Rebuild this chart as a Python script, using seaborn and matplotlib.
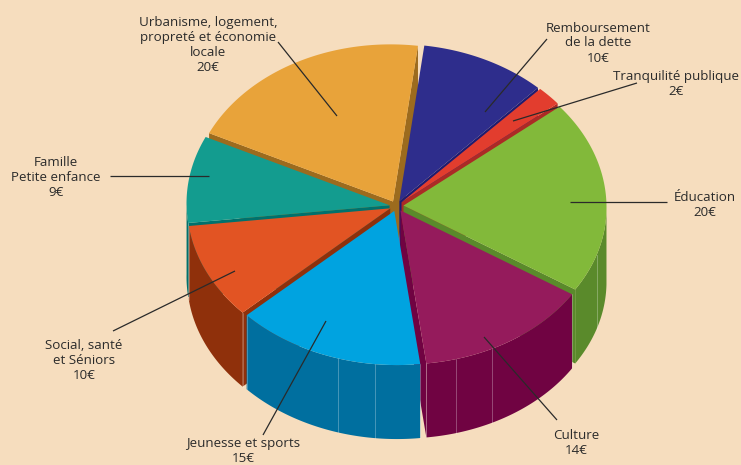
import numpy as np
import matplotlib
matplotlib.use("Agg")
import matplotlib.pyplot as plt
import seaborn as sns

names = ["Urbanisme", "Remboursement", "Tranquilité", "Éducation", "Culture", "Jeunesse", "Social", "Famille"]
values = [20, 10, 2, 20, 14, 15, 10, 9]
top_colors = ["#E8A33A", "#2E2D8C", "#E23D2E", "#82B93A", "#951B5C", "#00A3E0", "#E25423", "#139C8F"]
side_colors = ["#9C6B1E", "#1E1C70", "#AC2A25", "#5A8A2B", "#700342", "#006F9F", "#8F300B", "#00716C"]
draw_order = [0, 1, 2, 7, 3, 6, 4, 5]
labels = ["Urbanisme, logement,\npropreté et économie\nlocale\n20€",
          "Remboursement\nde la dette\n10€",
          "Tranquilité publique\n2€",
          "Éducation\n20€",
          "Culture\n14€",
          "Jeunesse et sports\n15€",
          "Social, santé\net Séniors\n10€",
          "Famille\nPetite enfance\n9€"]
label_xy = [(208, 45), (598, 43), (676, 84), (705, 205), (576, 443), (243, 451), (84, 360), (56, 177)]
leaders = [((278, 42), (337, 116)), ((547, 39), (485, 112)), ((637, 83), (513, 121)),
           ((667, 202), (570, 202)), ((557, 420), (484, 337)), ((263, 435), (326, 321)),
           ((113, 331), (235, 271)), ((110, 176), (209, 176))]
seams = [107, 152, 163, 184.5, 195]

BG = "#F6DDBE"
CX, CY, RX, RY_BACK, RY_FRONT, DEPTH, EXPLODE, START, TILT = 396.5, 206, 203, 157, 154, 74, 7, -66, 0.024

sns.set_theme(style="white")
plt.rcParams["font.family"] = ["Open Sans", "DejaVu Sans"]
fig, ax = plt.subplots(figsize=(7.41, 4.65), dpi=100)
fig.subplots_adjust(0, 0, 1, 1)
fig.patch.set_facecolor(BG)
ax.set_facecolor(BG)
ax.set_xlim(0, 741)
ax.set_ylim(465, 0)
sns.despine(ax=ax, left=True, bottom=True)
ax.set_xticks([])
ax.set_yticks([])

edges = START + np.concatenate([[0], np.cumsum(values)]) / np.sum(values) * 360


def pt(cx, cy, a):
    r = np.radians(a)
    dx = RX * np.sin(r)
    c = np.cos(r)
    dy = -np.where(c > 0, RY_BACK, RY_FRONT) * c
    return cx + dx - TILT * dy, cy + dy + TILT * dx


def radial_wall(tx, ty, a, color, z):
    x, y = pt(tx, ty, a)
    ax.fill([tx, x, x, tx], [ty, y, y + DEPTH, ty + DEPTH], color=color, lw=0, zorder=z)


for rank, i in enumerate(draw_order):
    a0, a1 = edges[i], edges[i + 1]
    mid = np.radians((a0 + a1) / 2)
    tx = CX + EXPLODE * np.sin(mid)
    ty = CY - EXPLODE * 0.75 * np.cos(mid)
    z = 2 + rank
    side = side_colors[i]
    if np.sin(np.radians(a0)) < 0:
        radial_wall(tx, ty, a0, side, z)
    if np.sin(np.radians(a1)) > 0:
        radial_wall(tx, ty, a1, side, z)
    lo, hi = max(a0, 90), min(a1, 270)
    if hi > lo:
        t = np.linspace(lo, hi, 80)
        x, y = pt(tx, ty, t)
        ax.fill(np.r_[x, x[::-1]], np.r_[y, y[::-1] + DEPTH], color=side, lw=0, zorder=z)
        for s in seams:
            if lo < s < hi:
                sx, sy = pt(tx, ty, s)
                ax.plot([sx, sx], [sy, sy + DEPTH], color="white", alpha=0.28, lw=0.7, zorder=z)
        for s in (lo, hi):
            if s in (a0, a1) and a0 >= 90:
                sx, sy = pt(tx, ty, s)
                ax.plot([sx, sx], [sy, sy + DEPTH], color="white", alpha=0.3, lw=0.6, zorder=z)
    t = np.linspace(a0, a1, 120)
    x, y = pt(tx, ty, t)
    ax.fill(np.r_[tx, x], np.r_[ty, y], color=top_colors[i], lw=0, zorder=z + 0.1)

for (p, q) in leaders:
    ax.plot([p[0], q[0]], [p[1], q[1]], color="#2A2A2A", lw=0.9, zorder=30, solid_capstyle="butt")

for txt, (x, y) in zip(labels, label_xy):
    ax.text(x, y, txt, ha="center", va="center", fontsize=9.6, color="#2B2B2B",
            linespacing=1.2, zorder=31)

fig.savefig("out.png", dpi=100, facecolor=BG)
